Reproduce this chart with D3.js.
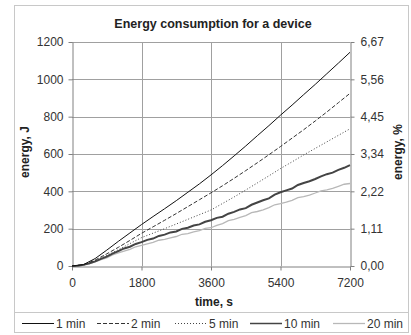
<!DOCTYPE html>
<html>
<head>
<meta charset="utf-8">
<script src="https://cdn.jsdelivr.net/npm/d3@7"></script>
<style>
    body { margin: 0; background: #fff; }
    svg { font-family: "Liberation Sans", Arial, sans-serif; }
    .axis path, .axis line { stroke: #808080; }
    .axis text { fill: #333; font-size: 12px; }
    .title { font-weight: bold; fill: #222; }
</style>
</head>
<body>
<div id="chart"></div>
<script>
// time axis, every 300 s for the smooth curves, every 150 s for the noisy ones
var timesCoarse = d3.range(0, 7201, 300);
var timesFine = d3.range(0, 7201, 150);

var min1 = [0, 8, 40, 85, 132, 177, 222, 265, 307, 350, 395, 440, 488, 538, 590, 643, 698, 752, 808, 862, 918, 973, 1030, 1087, 1145];
var min2 = [0, 6, 32, 65, 100, 137, 175, 210, 245, 281, 318, 355, 392, 430, 470, 511, 553, 596, 640, 685, 730, 777, 825, 875, 925];
var min5 = [0, 5, 28, 57, 87, 120, 152, 176, 200, 225, 250, 275, 300, 335, 370, 407, 445, 483, 522, 558, 595, 630, 665, 700, 735];
var min10 = [0, 1, 6, 14, 25, 38, 50, 66, 80, 94, 103, 118, 128, 140, 147, 161, 168, 180, 185, 199, 205, 217, 223, 237, 245,
    258, 264, 280, 290, 303, 310, 328, 340, 352, 362, 382, 395, 405, 415, 434, 445, 454, 466, 480, 492, 500, 515, 526, 540];
var min20 = [0, 2, 7, 12, 22, 34, 43, 59, 70, 80, 89, 103, 110, 119, 126, 138, 143, 151, 158, 170, 174, 183, 189, 201, 205,
    218, 227, 243, 250, 260, 270, 286, 292, 301, 313, 328, 334, 342, 352, 366, 372, 380, 391, 403, 408, 416, 427, 438, 442];

var xTicks = [0, 1800, 3600, 5400, 7200];
var yTicks = [0, 200, 400, 600, 800, 1000, 1200];
var pctLabels = ['0,00', '1,11', '2,22', '3,34', '4,45', '5,56', '6,67'];

var series = [
    {name: '1 min', times: timesCoarse, values: min1, color: '#111', width: 1, dash: null},
    {name: '2 min', times: timesCoarse, values: min2, color: '#333', width: 1, dash: '4,2'},
    {name: '5 min', times: timesCoarse, values: min5, color: '#444', width: 1, dash: '1,2'},
    {name: '10 min', times: timesFine, values: min10, color: '#444', width: 2, dash: null},
    {name: '20 min', times: timesFine, values: min20, color: '#b8b8b8', width: 1.3, dash: null}
];

var W = 411, H = 335,
    pLeft = 72, pRight = 350, pTop = 42, pBottom = 266;

var svg = d3.select('#chart').append('svg')
    .attr('width', W)
    .attr('height', H);

// frame and legend separator
svg.append('rect')
    .attr('x', 14.5).attr('y', 5.5)
    .attr('width', 394).attr('height', 327)
    .attr('fill', 'none')
    .attr('stroke', '#c8c8c8');
svg.append('line')
    .attr('x1', 14.5).attr('x2', 408.5)
    .attr('y1', 312.5).attr('y2', 312.5)
    .attr('stroke', '#c8c8c8');

var xScale = d3.scaleLinear().domain([0, 7200]).range([pLeft, pRight]),
    yScale = d3.scaleLinear().domain([0, 1200]).range([pBottom, pTop]);

// grid
var grid = svg.append('g');
grid.selectAll('.hg')
    .data(yTicks.slice(1))
    .enter().append('line')
    .attr('x1', pLeft).attr('x2', pRight)
    .attr('y1', function(d) { return Math.round(yScale(d)) + 0.5; })
    .attr('y2', function(d) { return Math.round(yScale(d)) + 0.5; })
    .attr('stroke', '#a0a0a0');
grid.selectAll('.vg')
    .data(xTicks.slice(1, -1))
    .enter().append('line')
    .attr('y1', pTop).attr('y2', pBottom)
    .attr('x1', function(d) { return Math.round(xScale(d)) + 0.5; })
    .attr('x2', function(d) { return Math.round(xScale(d)) + 0.5; })
    .attr('stroke', '#a0a0a0');

// axes
svg.append('g')
    .attr('class', 'axis')
    .attr('transform', 'translate(' + (pLeft + 0.5) + ',0)')
    .call(d3.axisLeft(yScale).tickValues(yTicks).tickSize(4).tickSizeOuter(0).tickPadding(5)
        .tickFormat(d3.format('d')));

svg.append('g')
    .attr('class', 'axis')
    .attr('transform', 'translate(' + (pRight + 0.5) + ',0)')
    .call(d3.axisRight(yScale).tickValues(yTicks).tickSize(4).tickSizeOuter(0).tickPadding(6)
        .tickFormat(function(d, i) { return pctLabels[i]; }));

svg.append('g')
    .attr('class', 'axis')
    .attr('transform', 'translate(0,' + (pBottom + 0.5) + ')')
    .call(d3.axisBottom(xScale).tickValues(xTicks).tickSize(4).tickSizeOuter(0).tickPadding(8)
        .tickFormat(d3.format('d')));

// titles
svg.append('text')
    .attr('class', 'title')
    .attr('x', 213).attr('y', 28)
    .attr('text-anchor', 'middle')
    .style('font-size', '12.5px')
    .text('Energy consumption for a device');
svg.append('text')
    .attr('class', 'title')
    .attr('x', 214).attr('y', 306)
    .attr('text-anchor', 'middle')
    .style('font-size', '12px')
    .text('time, s');
svg.append('text')
    .attr('class', 'title')
    .attr('transform', 'translate(29,152) rotate(-90)')
    .attr('text-anchor', 'middle')
    .style('font-size', '12px')
    .text('energy, J');
svg.append('text')
    .attr('class', 'title')
    .attr('transform', 'translate(402,152) rotate(-90)')
    .attr('text-anchor', 'middle')
    .style('font-size', '12px')
    .text('energy, %');

// series
var line = d3.line()
    .x(function(d) { return xScale(d[0]); })
    .y(function(d) { return yScale(d[1]); });

svg.append('g').selectAll('path')
    .data(series.slice().reverse())
    .enter().append('path')
    .attr('d', function(s) { return line(d3.zip(s.times, s.values)); })
    .attr('fill', 'none')
    .attr('stroke', function(s) { return s.color; })
    .attr('stroke-width', function(s) { return s.width; })
    .attr('stroke-dasharray', function(s) { return s.dash; });

// legend
var legendX = [22, 97, 175, 250, 333];
var legend = svg.append('g').selectAll('g')
    .data(series)
    .enter().append('g')
    .attr('transform', function(d, i) { return 'translate(' + legendX[i] + ',323.5)'; });
legend.append('line')
    .attr('x1', 0).attr('x2', 32)
    .attr('stroke', function(s) { return s.color; })
    .attr('stroke-width', function(s) { return Math.min(s.width, 1.5); })
    .attr('stroke-dasharray', function(s) { return s.dash; });
legend.append('text')
    .attr('x', 34).attr('dy', '0.35em')
    .style('font-size', '12px').style('fill', '#333')
    .text(function(s) { return s.name; });
</script>
</body>
</html>
